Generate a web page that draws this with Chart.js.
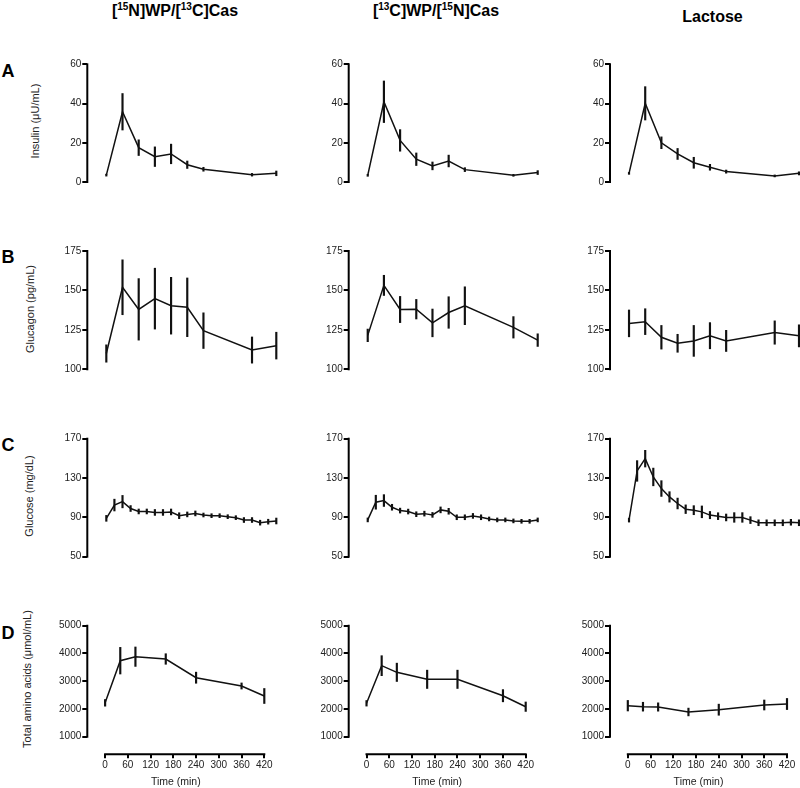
<!DOCTYPE html>
<html>
<head>
<meta charset="utf-8">
<script src="https://cdn.jsdelivr.net/npm/chart.js@4.4.1/dist/chart.umd.min.js"></script>
<style>
  html, body { margin: 0; padding: 0; background: #fff; }
  #page { position: relative; width: 800px; height: 788px; overflow: hidden;
          font-family: 'Liberation Sans', Arial, Helvetica, sans-serif; color: #000; }
  #page canvas { position: absolute; }
  .head { position: absolute; width: 300px; text-align: center; font-weight: bold;
          font-size: 16px; line-height: 16px; white-space: nowrap; }
  .head sup { font-size: 10px; line-height: 0; vertical-align: baseline; position: relative; top: -6px; }
  .letter { position: absolute; font-weight: bold; font-size: 18px; line-height: 18px; }
  .ytitle { position: absolute; font-size: 11px; line-height: 13px; white-space: nowrap; color: #222;
            transform: translate(-50%, -50%) rotate(-90deg); }
</style>
</head>
<body>
<div id="page"></div>
<script>
// time points (min)
const timesMain = [0, 40, 80, 120, 160, 200, 240, 360, 420];
const timesGlucose = [0, 20, 40, 60, 80, 100, 120, 140, 160, 180, 200, 220, 240, 260, 280, 300, 320, 340, 360, 380, 400, 420];
const timesAmino = [0, 40, 80, 160, 240, 360, 420];
const timeTicks = [0, 60, 120, 180, 240, 300, 360, 420];

// y tick labels
const insulinTicks = [0, 20, 40, 60];
const glucagonTicks = [100, 125, 150, 175];
const glucoseTicks = [50, 90, 130, 170];
const aminoTicks = [1000, 2000, 3000, 4000, 5000];

// headers / titles
const groupHeads = ['[<sup>15</sup>N]WP/[<sup>13</sup>C]Cas', '[<sup>13</sup>C]WP/[<sup>15</sup>N]Cas', 'Lactose'];
const rowLetters = ['A', 'B', 'C', 'D'];
const yTitles = ['Insulin (\u03bcU/mL)', 'Glucagon (pg/mL)', 'Glucose (mg/dL)', 'Total amino acids (\u03bcmol/mL)'];

// insulin
const insulinN15 = [3.5, 35.8, 17.5, 12.9, 14.3, 8.8, 6.5, 3.7, 4.4];
const insulinN15Err = [0.5, 9.3, 4, 5, 5, 1.9, 1, 0.7, 1.2];
const insulinC13 = [3.4, 40.9, 21.2, 11.6, 8.2, 10.7, 6.3, 3.4, 4.8];
const insulinC13Err = [0.5, 10.6, 5.5, 3.2, 2, 3, 1, 0.5, 1];
const insulinLac = [4.4, 40.1, 20, 14.3, 9.8, 7.5, 5.3, 3.1, 4.4];
const insulinLacErr = [0.5, 8.5, 3, 2.8, 2.8, 1.5, 0.8, 0.5, 0.8];

// glucagon
const glucagonN15 = [110, 152, 138, 144.8, 140.3, 139.3, 124.5, 112.2, 115];
const glucagonN15Err = [5.5, 17.4, 19.5, 19.3, 18, 18.6, 11.3, 8.3, 8.5];
const glucagonC13 = [121.5, 153.2, 137.9, 138.1, 129.4, 136, 140.3, 126.6, 118.5];
const glucagonC13Err = [4, 6.4, 8.3, 6.2, 8.8, 10, 12, 6.8, 4];
const glucagonLac = [129.1, 130.2, 120.3, 116.5, 118, 121.3, 118, 123.3, 121.2];
const glucagonLacErr = [8.5, 8.2, 7.5, 5.7, 9.8, 8.3, 6.7, 7.4, 7];

// glucose
const glucoseN15 = [89, 102.5, 106, 99, 96, 96, 95, 95, 95.5, 91.7, 93, 94, 92.4, 91.7, 91.7, 90.7, 89.7, 87.3, 87.3, 84.6, 85.6, 86.3];
const glucoseN15Err = [3, 6, 6.3, 3, 2.5, 2.5, 3, 3, 3, 3, 2.5, 2.5, 2, 2, 2, 2, 2, 2.5, 2.5, 2.5, 2.5, 3];
const glucoseC13 = [87.4, 105.4, 107.1, 100.3, 96.9, 95.9, 93.2, 93.8, 92.5, 97.6, 96.2, 90.1, 90.1, 91.5, 90.1, 88.4, 87.4, 87.4, 86.4, 86, 86, 87.4];
const glucoseC13Err = [2, 7.1, 6, 3, 2.5, 2.5, 2.5, 2.5, 2.5, 3, 3, 2.5, 2.5, 2.5, 2.5, 2, 2, 2, 2, 2, 2, 2];
const glucoseLac = [87.2, 137.2, 149.7, 131.1, 119.3, 110.8, 104.1, 98.3, 97.3, 95.6, 92.3, 91.2, 89.9, 89.9, 89.9, 87.2, 84.5, 84.5, 84.5, 84.5, 85, 84.5];
const glucoseLacErr = [2, 10.5, 8.5, 9, 8, 5.3, 5.5, 4.4, 4.6, 6, 3.7, 3.5, 3.5, 4.9, 4.9, 3.5, 3, 3, 3, 3, 3, 3];

// total amino acids
const aminoN15 = [2220, 3739, 3883, 3800, 3126, 2827, 2467];
const aminoN15Err = [120, 480, 350, 190, 200, 110, 270];
const aminoC13 = [2203, 3559, 3320, 3068, 3068, 2477, 2081];
const aminoC13Err = [100, 360, 330, 330, 330, 220, 170];
const aminoLac = [2117, 2081, 2070, 1890, 1973, 2142, 2178];
const aminoLacErr = [190, 160, 150, 140, 200, 180, 200];

const rows = [
  { times: timesMain, ticks: insulinTicks, values: [insulinN15, insulinC13, insulinLac], errs: [insulinN15Err, insulinC13Err, insulinLacErr] },
  { times: timesMain, ticks: glucagonTicks, values: [glucagonN15, glucagonC13, glucagonLac], errs: [glucagonN15Err, glucagonC13Err, glucagonLacErr] },
  { times: timesGlucose, ticks: glucoseTicks, values: [glucoseN15, glucoseC13, glucoseLac], errs: [glucoseN15Err, glucoseC13Err, glucoseLacErr] },
  { times: timesAmino, ticks: aminoTicks, values: [aminoN15, aminoC13, aminoLac], errs: [aminoN15Err, aminoC13Err, aminoLacErr] },
];

// layout (pixels)
const axisX = [87.3, 348.7, 610];
const rowBox = [
  { top: 64.3, bottom: 182, plotW: 189 },
  { top: 251, bottom: 369.3, plotW: 189 },
  { top: 438.7, bottom: 556.7, plotW: 189 },
  { top: 625.7, bottom: 754.3, plotW: 177, lowTick: 736.7 },
];
const headPos = [[175, 3], [436, 3], [712.5, 9.2]];
const letterTops = [61.8, 248.3, 435.8, 624.3];
const yTitlePos = [[34.5, 121], [30, 308.5], [28.7, 495.8], [27, 679]];

Chart.defaults.font.family = "'Liberation Sans', Arial, Helvetica, sans-serif";
Chart.defaults.color = '#222';

const page = document.getElementById('page');

// prism-style axes: lines only span the tick range
const offsetAxes = {
  id: 'offsetAxes',
  afterDraw(chart) {
    const { ctx, chartArea, scales } = chart;
    ctx.save();
    ctx.strokeStyle = '#000';
    ctx.lineWidth = 2;
    ctx.lineCap = 'square';
    const yt = scales.y.ticks;
    ctx.beginPath();
    ctx.moveTo(chartArea.left, scales.y.getPixelForValue(yt[0].value));
    ctx.lineTo(chartArea.left, scales.y.getPixelForValue(yt[yt.length - 1].value));
    if (scales.x.options.display) {
      const xt = scales.x.ticks;
      ctx.moveTo(scales.x.getPixelForValue(xt[0].value), chartArea.bottom);
      ctx.lineTo(scales.x.getPixelForValue(xt[xt.length - 1].value), chartArea.bottom);
    }
    ctx.stroke();
    ctx.restore();
  }
};

function makePanel(r, c) {
  const row = rows[r];
  const box = rowBox[r];
  const isBottom = r === rows.length - 1;
  const yW = 30;
  const left = Math.floor(axisX[c]) - 40;
  const top = Math.floor(box.top) - 10;
  const width = Math.ceil(axisX[c] + box.plotW + 14) - left;
  const bottom = isBottom ? 788 : Math.ceil(box.bottom) + 8;
  const height = bottom - top;
  const xH = isBottom ? bottom - box.bottom : 0;

  const ticks = row.ticks;
  const tMin = ticks[0], tMax = ticks[ticks.length - 1];
  let yMin = tMin;
  if (box.lowTick) {
    yMin = tMin - (box.bottom - box.lowTick) * (tMax - tMin) / (box.lowTick - box.top);
  }

  const canvas = document.createElement('canvas');
  canvas.width = width;
  canvas.height = height;
  canvas.style.left = left + 'px';
  canvas.style.top = top + 'px';
  page.appendChild(canvas);

  const vals = row.values[c];
  const errs = row.errs[c];

  new Chart(canvas, {
    type: 'line',
    data: {
      datasets: [
        {
          type: 'line',
          data: row.times.map((t, i) => ({ x: t, y: vals[i] })),
          borderColor: '#111',
          borderWidth: 1.5,
          pointRadius: 0,
          tension: 0,
          clip: false,
        },
        {
          type: 'bar',
          data: row.times.map((t, i) => ({ x: t, y: [vals[i] - errs[i], vals[i] + errs[i]] })),
          backgroundColor: '#111',
          borderWidth: 0,
          barThickness: 1.5,
          clip: false,
        },
      ],
    },
    options: {
      responsive: false,
      animation: false,
      events: [],
      layout: {
        padding: {
          left: axisX[c] - left - yW,
          right: left + width - axisX[c] - box.plotW,
          top: box.top - top,
          bottom: bottom - box.bottom - xH,
        },
      },
      plugins: { legend: { display: false }, tooltip: { enabled: false } },
      scales: {
        x: {
          type: 'linear',
          display: isBottom,
          min: -47,
          max: 420,
          offset: false,
          beginAtZero: false,
          afterBuildTicks: (s) => { s.ticks = timeTicks.map((v) => ({ value: v })); },
          afterFit: (s) => { s.height = xH; },
          border: { display: false },
          grid: { offset: false, drawOnChartArea: false, drawTicks: true, tickLength: 4, color: '#000', lineWidth: 2 },
          ticks: { padding: 1, maxRotation: 0, autoSkip: false, font: { size: 10 }, color: '#222', callback: (v) => String(v) },
          title: { display: true, text: 'Time (min)', font: { size: 10.5 }, color: '#222', padding: 0 },
        },
        y: {
          type: 'linear',
          min: yMin,
          max: tMax,
          beginAtZero: false,
          afterBuildTicks: (s) => { s.ticks = ticks.map((v) => ({ value: v })); },
          afterFit: (s) => { s.width = yW; },
          border: { display: false },
          grid: { drawOnChartArea: false, drawTicks: true, tickLength: 5, color: '#000', lineWidth: 2 },
          ticks: { padding: 1, autoSkip: false, font: { size: 10 }, color: '#222', callback: (v) => String(v) },
        },
      },
    },
    plugins: [offsetAxes],
  });
}

for (let r = 0; r < rows.length; r++) {
  for (let c = 0; c < 3; c++) makePanel(r, c);
}

groupHeads.forEach((h, c) => {
  const d = document.createElement('div');
  d.className = 'head';
  d.innerHTML = h;
  d.style.left = (headPos[c][0] - 150) + 'px';
  d.style.top = headPos[c][1] + 'px';
  page.appendChild(d);
});

rowLetters.forEach((l, r) => {
  const d = document.createElement('div');
  d.className = 'letter';
  d.textContent = l;
  d.style.left = '1.5px';
  d.style.top = letterTops[r] + 'px';
  page.appendChild(d);
});

yTitles.forEach((t, r) => {
  const d = document.createElement('div');
  d.className = 'ytitle';
  d.textContent = t;
  d.style.left = yTitlePos[r][0] + 'px';
  d.style.top = yTitlePos[r][1] + 'px';
  page.appendChild(d);
});
</script>
</body>
</html>
